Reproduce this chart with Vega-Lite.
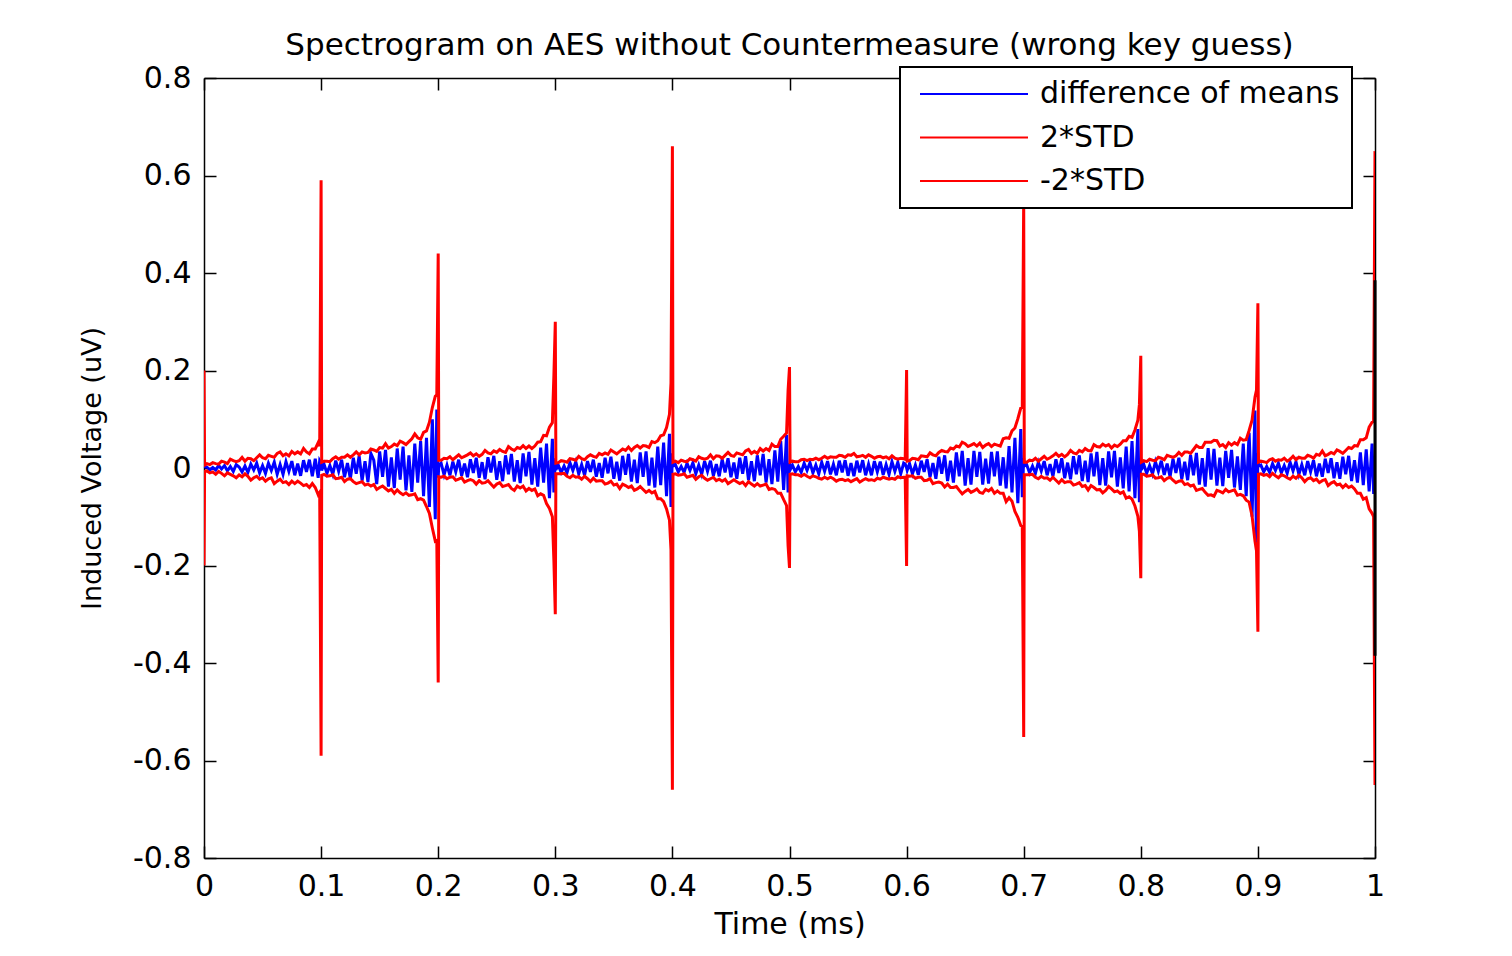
{
"$schema":"https://vega.github.io/schema/vega-lite/v6.json",
"width":1171,"height":780,
"autosize":{"type":"none"},
"padding":{"left":204,"top":78,"right":137,"bottom":98},
"background":"white",
"title":{"text":"Spectrogram on AES without Countermeasure (wrong key guess)","font":"DejaVu Sans","fontSize":31,"fontWeight":"normal","color":"black","offset":1,"anchor":"middle"},
"datasets":{
"sig":[
{"t":0,"m":0,"u":0.2,"l":-0.2},
{"t":0.0005,"m":0.003,"u":0.006,"l":-0.007},
{"t":0.0025,"m":0.002,"u":0.009,"l":-0.006},
{"t":0.005,"m":-0.004,"u":0.007,"l":-0.01},
{"t":0.0075,"m":0.001,"u":0.011,"l":-0.008},
{"t":0.01,"m":-0.004,"u":0.009,"l":-0.013},
{"t":0.0125,"m":0.005,"u":0.008,"l":-0.007},
{"t":0.015,"m":-0.002,"u":0.014,"l":-0.011},
{"t":0.0175,"m":0.005,"u":0.012,"l":-0.016},
{"t":0.02,"m":-0.006,"u":0.009,"l":-0.01},
{"t":0.0225,"m":0.003,"u":0.018,"l":-0.013},
{"t":0.025,"m":-0.007,"u":0.015,"l":-0.016},
{"t":0.0275,"m":0.007,"u":0.013,"l":-0.02},
{"t":0.03,"m":0.002,"u":0.015,"l":-0.014},
{"t":0.0325,"m":-0.008,"u":0.022,"l":-0.018},
{"t":0.035,"m":0.004,"u":0.014,"l":-0.012},
{"t":0.0375,"m":-0.009,"u":0.02,"l":-0.017},
{"t":0.04,"m":0.008,"u":0.019,"l":-0.025},
{"t":0.0425,"m":-0.004,"u":0.015,"l":-0.02},
{"t":0.045,"m":0.01,"u":0.021,"l":-0.017},
{"t":0.0475,"m":-0.01,"u":0.027,"l":-0.023},
{"t":0.05,"m":0.005,"u":0.021,"l":-0.02},
{"t":0.0525,"m":-0.011,"u":0.019,"l":-0.027},
{"t":0.055,"m":0.01,"u":0.026,"l":-0.022},
{"t":0.0575,"m":-0.005,"u":0.024,"l":-0.02},
{"t":0.06,"m":0.012,"u":0.022,"l":-0.032},
{"t":0.0625,"m":-0.013,"u":0.03,"l":-0.027},
{"t":0.065,"m":0.007,"u":0.033,"l":-0.023},
{"t":0.0675,"m":-0.013,"u":0.025,"l":-0.03},
{"t":0.07,"m":0.013,"u":0.029,"l":-0.028},
{"t":0.0725,"m":-0.007,"u":0.025,"l":-0.034},
{"t":0.075,"m":0.014,"u":0.034,"l":-0.027},
{"t":0.0775,"m":-0.015,"u":0.029,"l":-0.032},
{"t":0.08,"m":0.009,"u":0.033,"l":-0.027},
{"t":0.0825,"m":-0.016,"u":0.029,"l":-0.031},
{"t":0.085,"m":0.016,"u":0.04,"l":-0.036},
{"t":0.0875,"m":-0.008,"u":0.033,"l":-0.034},
{"t":0.09,"m":0.017,"u":0.029,"l":-0.04},
{"t":0.0925,"m":-0.017,"u":0.039,"l":-0.032},
{"t":0.095,"m":0.019,"u":0.039,"l":-0.04},
{"t":0.0975,"m":-0.02,"u":0.052,"l":-0.055},
{"t":0.0988,"m":0.015,"u":0.045,"l":-0.05},
{"t":0.1,"m":0.01,"u":0.59,"l":-0.59},
{"t":0.1005,"m":-0.005,"u":0.012,"l":-0.015},
{"t":0.1025,"m":0.008,"u":0.014,"l":-0.013},
{"t":0.105,"m":-0.011,"u":0.014,"l":-0.017},
{"t":0.1075,"m":0.005,"u":0.013,"l":-0.016},
{"t":0.11,"m":-0.013,"u":0.019,"l":-0.014},
{"t":0.1125,"m":0.015,"u":0.023,"l":-0.022},
{"t":0.115,"m":-0.007,"u":0.018,"l":-0.021},
{"t":0.1175,"m":0.017,"u":0.022,"l":-0.019},
{"t":0.12,"m":-0.019,"u":0.022,"l":-0.028},
{"t":0.1225,"m":0.01,"u":0.027,"l":-0.023},
{"t":0.125,"m":-0.022,"u":0.022,"l":-0.022},
{"t":0.1275,"m":0.021,"u":0.027,"l":-0.028},
{"t":0.13,"m":-0.012,"u":0.033,"l":-0.032},
{"t":0.1325,"m":0.025,"u":0.027,"l":-0.03},
{"t":0.135,"m":-0.026,"u":0.033,"l":-0.028},
{"t":0.1375,"m":0.014,"u":0.031,"l":-0.035},
{"t":0.14,"m":-0.029,"u":0.032,"l":-0.033},
{"t":0.1425,"m":0.03,"u":0.039,"l":-0.037},
{"t":0.145,"m":0.016,"u":0.037,"l":-0.034},
{"t":0.1475,"m":-0.033,"u":0.034,"l":-0.044},
{"t":0.15,"m":0.034,"u":0.042,"l":-0.04},
{"t":0.1525,"m":-0.018,"u":0.041,"l":-0.037},
{"t":0.155,"m":0.037,"u":0.05,"l":-0.042},
{"t":0.1575,"m":-0.038,"u":0.041,"l":-0.047},
{"t":0.16,"m":0.022,"u":0.044,"l":-0.044},
{"t":0.1625,"m":-0.041,"u":0.049,"l":-0.052},
{"t":0.165,"m":0.04,"u":0.046,"l":-0.045},
{"t":0.1675,"m":-0.024,"u":0.055,"l":-0.051},
{"t":0.17,"m":0.044,"u":0.052,"l":-0.055},
{"t":0.1725,"m":-0.046,"u":0.048,"l":-0.051},
{"t":0.175,"m":0.026,"u":0.054,"l":-0.056},
{"t":0.1775,"m":-0.049,"u":0.06,"l":-0.055},
{"t":0.18,"m":0.05,"u":0.07,"l":-0.053},
{"t":0.1825,"m":-0.03,"u":0.062,"l":-0.065},
{"t":0.185,"m":0.055,"u":0.059,"l":-0.063},
{"t":0.1875,"m":-0.058,"u":0.073,"l":-0.066},
{"t":0.19,"m":0.062,"u":0.076,"l":-0.079},
{"t":0.1925,"m":-0.08,"u":0.094,"l":-0.093},
{"t":0.195,"m":0.1,"u":0.124,"l":-0.123},
{"t":0.1975,"m":-0.105,"u":0.147,"l":-0.15},
{"t":0.1988,"m":0.12,"u":0.15,"l":-0.148},
{"t":0.2,"m":-0.02,"u":0.44,"l":-0.44},
{"t":0.2005,"m":0.005,"u":0.016,"l":-0.018},
{"t":0.2025,"m":0.01,"u":0.016,"l":-0.019},
{"t":0.205,"m":-0.014,"u":0.02,"l":-0.017},
{"t":0.2075,"m":0.006,"u":0.019,"l":-0.022},
{"t":0.21,"m":-0.015,"u":0.023,"l":-0.019},
{"t":0.2125,"m":0.013,"u":0.017,"l":-0.018},
{"t":0.215,"m":-0.008,"u":0.022,"l":-0.025},
{"t":0.2175,"m":0.017,"u":0.027,"l":-0.023},
{"t":0.22,"m":-0.016,"u":0.021,"l":-0.02},
{"t":0.2225,"m":0.009,"u":0.024,"l":-0.029},
{"t":0.225,"m":-0.019,"u":0.027,"l":-0.026},
{"t":0.2275,"m":0.018,"u":0.031,"l":-0.024},
{"t":0.23,"m":-0.01,"u":0.025,"l":-0.026},
{"t":0.2325,"m":0.021,"u":0.029,"l":-0.033},
{"t":0.235,"m":-0.02,"u":0.024,"l":-0.026},
{"t":0.2375,"m":0.012,"u":0.028,"l":-0.031},
{"t":0.24,"m":-0.023,"u":0.036,"l":-0.03},
{"t":0.2425,"m":0.022,"u":0.031,"l":-0.026},
{"t":0.245,"m":-0.009,"u":0.029,"l":-0.033},
{"t":0.2475,"m":0.025,"u":0.035,"l":-0.039},
{"t":0.25,"m":-0.024,"u":0.032,"l":-0.033},
{"t":0.2525,"m":0.014,"u":0.038,"l":-0.03},
{"t":0.255,"m":-0.027,"u":0.034,"l":-0.038},
{"t":0.2575,"m":0.026,"u":0.032,"l":-0.036},
{"t":0.26,"m":-0.013,"u":0.044,"l":-0.034},
{"t":0.2625,"m":0.029,"u":0.039,"l":-0.042},
{"t":0.265,"m":-0.028,"u":0.036,"l":-0.046},
{"t":0.2675,"m":0.016,"u":0.042,"l":-0.037},
{"t":0.27,"m":-0.031,"u":0.04,"l":-0.041},
{"t":0.2725,"m":0.03,"u":0.046,"l":-0.037},
{"t":0.275,"m":-0.017,"u":0.04,"l":-0.047},
{"t":0.2775,"m":0.033,"u":0.045,"l":-0.042},
{"t":0.28,"m":-0.034,"u":0.04,"l":-0.046},
{"t":0.2825,"m":0.02,"u":0.045,"l":-0.043},
{"t":0.285,"m":-0.038,"u":0.053,"l":-0.057},
{"t":0.2875,"m":0.042,"u":0.054,"l":-0.053},
{"t":0.29,"m":-0.03,"u":0.067,"l":-0.056},
{"t":0.2925,"m":0.05,"u":0.066,"l":-0.073},
{"t":0.295,"m":-0.062,"u":0.084,"l":-0.083},
{"t":0.2975,"m":0.06,"u":0.093,"l":-0.1},
{"t":0.2988,"m":-0.05,"u":0.19,"l":-0.19},
{"t":0.3,"m":0.02,"u":0.3,"l":-0.3},
{"t":0.3005,"m":-0.004,"u":0.01,"l":-0.012},
{"t":0.3025,"m":0.006,"u":0.011,"l":-0.012},
{"t":0.305,"m":-0.009,"u":0.015,"l":-0.012},
{"t":0.3075,"m":0.004,"u":0.014,"l":-0.011},
{"t":0.31,"m":-0.01,"u":0.012,"l":-0.017},
{"t":0.3125,"m":0.011,"u":0.019,"l":-0.02},
{"t":0.315,"m":-0.005,"u":0.018,"l":-0.015},
{"t":0.3175,"m":0.013,"u":0.016,"l":-0.019},
{"t":0.32,"m":-0.012,"u":0.024,"l":-0.018},
{"t":0.3225,"m":0.007,"u":0.019,"l":-0.023},
{"t":0.325,"m":-0.015,"u":0.017,"l":-0.017},
{"t":0.3275,"m":0.014,"u":0.023,"l":-0.022},
{"t":0.33,"m":-0.008,"u":0.027,"l":-0.028},
{"t":0.3325,"m":0.017,"u":0.024,"l":-0.021},
{"t":0.335,"m":-0.018,"u":0.022,"l":-0.027},
{"t":0.3375,"m":0.01,"u":0.03,"l":-0.026},
{"t":0.34,"m":-0.02,"u":0.027,"l":-0.026},
{"t":0.3425,"m":0.021,"u":0.031,"l":-0.033},
{"t":0.345,"m":-0.011,"u":0.028,"l":-0.031},
{"t":0.3475,"m":0.023,"u":0.037,"l":-0.027},
{"t":0.35,"m":-0.022,"u":0.033,"l":-0.035},
{"t":0.3525,"m":0.013,"u":0.029,"l":-0.033},
{"t":0.355,"m":-0.026,"u":0.034,"l":-0.042},
{"t":0.3575,"m":0.025,"u":0.039,"l":-0.033},
{"t":0.36,"m":-0.014,"u":0.036,"l":-0.036},
{"t":0.3625,"m":0.029,"u":0.043,"l":-0.04},
{"t":0.365,"m":-0.028,"u":0.036,"l":-0.037},
{"t":0.3675,"m":0.017,"u":0.042,"l":-0.046},
{"t":0.37,"m":-0.031,"u":0.046,"l":-0.043},
{"t":0.3725,"m":0.032,"u":0.041,"l":-0.038},
{"t":0.375,"m":-0.018,"u":0.046,"l":-0.044},
{"t":0.3775,"m":0.034,"u":0.045,"l":-0.05},
{"t":0.38,"m":-0.036,"u":0.042,"l":-0.046},
{"t":0.3825,"m":0.021,"u":0.054,"l":-0.051},
{"t":0.385,"m":-0.04,"u":0.052,"l":-0.048},
{"t":0.3875,"m":0.044,"u":0.056,"l":-0.063},
{"t":0.39,"m":-0.035,"u":0.066,"l":-0.063},
{"t":0.3925,"m":0.052,"u":0.068,"l":-0.069},
{"t":0.395,"m":-0.058,"u":0.083,"l":-0.084},
{"t":0.3975,"m":0.07,"u":0.11,"l":-0.107},
{"t":0.3988,"m":-0.08,"u":0.174,"l":-0.168},
{"t":0.4,"m":0.03,"u":0.66,"l":-0.66},
{"t":0.4005,"m":0.004,"u":0.012,"l":-0.013},
{"t":0.4025,"m":0.007,"u":0.014,"l":-0.012},
{"t":0.405,"m":-0.008,"u":0.011,"l":-0.015},
{"t":0.4075,"m":0.003,"u":0.016,"l":-0.014},
{"t":0.41,"m":-0.009,"u":0.014,"l":-0.012},
{"t":0.4125,"m":0.01,"u":0.013,"l":-0.019},
{"t":0.415,"m":-0.005,"u":0.019,"l":-0.017},
{"t":0.4175,"m":0.011,"u":0.017,"l":-0.015},
{"t":0.42,"m":-0.012,"u":0.014,"l":-0.023},
{"t":0.4225,"m":0.006,"u":0.023,"l":-0.018},
{"t":0.425,"m":-0.013,"u":0.02,"l":-0.015},
{"t":0.4275,"m":0.014,"u":0.018,"l":-0.021},
{"t":0.43,"m":-0.007,"u":0.02,"l":-0.025},
{"t":0.4325,"m":0.015,"u":0.027,"l":-0.022},
{"t":0.435,"m":-0.016,"u":0.019,"l":-0.019},
{"t":0.4375,"m":0.008,"u":0.025,"l":-0.026},
{"t":0.44,"m":-0.017,"u":0.024,"l":-0.023},
{"t":0.4425,"m":0.018,"u":0.02,"l":-0.027},
{"t":0.445,"m":-0.009,"u":0.026,"l":-0.023},
{"t":0.4475,"m":0.02,"u":0.032,"l":-0.032},
{"t":0.45,"m":-0.019,"u":0.026,"l":-0.028},
{"t":0.4525,"m":0.011,"u":0.024,"l":-0.024},
{"t":0.455,"m":-0.022,"u":0.031,"l":-0.028},
{"t":0.4575,"m":0.021,"u":0.029,"l":-0.032},
{"t":0.46,"m":-0.012,"u":0.027,"l":-0.029},
{"t":0.4625,"m":0.024,"u":0.035,"l":-0.036},
{"t":0.465,"m":-0.025,"u":0.038,"l":-0.028},
{"t":0.4675,"m":0.014,"u":0.03,"l":-0.033},
{"t":0.47,"m":-0.027,"u":0.034,"l":-0.037},
{"t":0.4725,"m":0.026,"u":0.03,"l":-0.032},
{"t":0.475,"m":-0.015,"u":0.04,"l":-0.037},
{"t":0.4775,"m":0.029,"u":0.035,"l":-0.035},
{"t":0.48,"m":-0.03,"u":0.04,"l":-0.033},
{"t":0.4825,"m":0.018,"u":0.036,"l":-0.044},
{"t":0.485,"m":-0.033,"u":0.049,"l":-0.042},
{"t":0.4875,"m":0.036,"u":0.044,"l":-0.044},
{"t":0.49,"m":-0.028,"u":0.044,"l":-0.052},
{"t":0.4925,"m":0.055,"u":0.059,"l":-0.052},
{"t":0.495,"m":-0.045,"u":0.065,"l":-0.065},
{"t":0.4975,"m":0.068,"u":0.072,"l":-0.077},
{"t":0.4988,"m":-0.05,"u":0.16,"l":-0.16},
{"t":0.5,"m":0.01,"u":0.207,"l":-0.205},
{"t":0.5005,"m":-0.004,"u":0.012,"l":-0.013},
{"t":0.5025,"m":0.006,"u":0.014,"l":-0.012},
{"t":0.505,"m":-0.008,"u":0.013,"l":-0.014},
{"t":0.5075,"m":0.003,"u":0.013,"l":-0.014},
{"t":0.51,"m":-0.009,"u":0.017,"l":-0.017},
{"t":0.5125,"m":0.01,"u":0.018,"l":-0.013},
{"t":0.515,"m":-0.005,"u":0.015,"l":-0.017},
{"t":0.5175,"m":0.011,"u":0.018,"l":-0.02},
{"t":0.52,"m":-0.01,"u":0.017,"l":-0.016},
{"t":0.5225,"m":0.006,"u":0.02,"l":-0.018},
{"t":0.525,"m":-0.012,"u":0.017,"l":-0.021},
{"t":0.5275,"m":0.012,"u":0.02,"l":-0.023},
{"t":0.53,"m":-0.007,"u":0.024,"l":-0.019},
{"t":0.5325,"m":0.014,"u":0.02,"l":-0.022},
{"t":0.535,"m":-0.013,"u":0.023,"l":-0.019},
{"t":0.5375,"m":0.008,"u":0.022,"l":-0.022},
{"t":0.54,"m":-0.015,"u":0.022,"l":-0.027},
{"t":0.5425,"m":0.015,"u":0.026,"l":-0.024},
{"t":0.545,"m":-0.009,"u":0.025,"l":-0.023},
{"t":0.5475,"m":0.016,"u":0.022,"l":-0.026},
{"t":0.55,"m":-0.016,"u":0.027,"l":-0.024},
{"t":0.5525,"m":0.01,"u":0.026,"l":-0.028},
{"t":0.555,"m":-0.017,"u":0.03,"l":-0.025},
{"t":0.5575,"m":0.015,"u":0.023,"l":-0.022},
{"t":0.56,"m":-0.009,"u":0.024,"l":-0.029},
{"t":0.5625,"m":0.016,"u":0.026,"l":-0.025},
{"t":0.565,"m":-0.015,"u":0.022,"l":-0.022},
{"t":0.5675,"m":0.008,"u":0.027,"l":-0.025},
{"t":0.57,"m":-0.015,"u":0.024,"l":-0.024},
{"t":0.5725,"m":0.014,"u":0.02,"l":-0.026},
{"t":0.575,"m":-0.008,"u":0.023,"l":-0.021},
{"t":0.5775,"m":0.013,"u":0.024,"l":-0.023},
{"t":0.58,"m":-0.014,"u":0.021,"l":-0.019},
{"t":0.5825,"m":0.007,"u":0.023,"l":-0.021},
{"t":0.585,"m":-0.013,"u":0.019,"l":-0.023},
{"t":0.5875,"m":0.013,"u":0.025,"l":-0.021},
{"t":0.59,"m":-0.007,"u":0.02,"l":-0.023},
{"t":0.5925,"m":0.012,"u":0.018,"l":-0.018},
{"t":0.595,"m":-0.012,"u":0.02,"l":-0.02},
{"t":0.5975,"m":0.01,"u":0.019,"l":-0.019},
{"t":0.5988,"m":0.008,"u":0.018,"l":-0.019},
{"t":0.6,"m":0,"u":0.201,"l":-0.201},
{"t":0.6005,"m":-0.005,"u":0.014,"l":-0.016},
{"t":0.6025,"m":0.009,"u":0.015,"l":-0.017},
{"t":0.605,"m":-0.012,"u":0.02,"l":-0.016},
{"t":0.6075,"m":0.006,"u":0.019,"l":-0.021},
{"t":0.61,"m":-0.014,"u":0.017,"l":-0.019},
{"t":0.6125,"m":0.015,"u":0.025,"l":-0.019},
{"t":0.615,"m":-0.008,"u":0.024,"l":-0.026},
{"t":0.6175,"m":0.018,"u":0.023,"l":-0.025},
{"t":0.62,"m":-0.019,"u":0.031,"l":-0.022},
{"t":0.6225,"m":0.01,"u":0.027,"l":-0.032},
{"t":0.625,"m":-0.022,"u":0.025,"l":-0.03},
{"t":0.6275,"m":0.023,"u":0.032,"l":-0.029},
{"t":0.63,"m":-0.012,"u":0.036,"l":-0.031},
{"t":0.6325,"m":0.026,"u":0.034,"l":-0.039},
{"t":0.635,"m":-0.027,"u":0.033,"l":-0.033},
{"t":0.6375,"m":0.015,"u":0.041,"l":-0.04},
{"t":0.64,"m":-0.03,"u":0.039,"l":-0.04},
{"t":0.6425,"m":0.032,"u":0.045,"l":-0.038},
{"t":0.645,"m":-0.017,"u":0.043,"l":-0.046},
{"t":0.6475,"m":0.035,"u":0.053,"l":-0.053},
{"t":0.65,"m":-0.036,"u":0.05,"l":-0.048},
{"t":0.6525,"m":0.02,"u":0.044,"l":-0.044},
{"t":0.655,"m":-0.034,"u":0.047,"l":-0.05},
{"t":0.6575,"m":0.035,"u":0.05,"l":-0.047},
{"t":0.66,"m":-0.018,"u":0.045,"l":-0.043},
{"t":0.6625,"m":0.033,"u":0.051,"l":-0.05},
{"t":0.665,"m":-0.034,"u":0.042,"l":-0.052},
{"t":0.6675,"m":0.019,"u":0.047,"l":-0.044},
{"t":0.67,"m":-0.032,"u":0.05,"l":-0.047},
{"t":0.6725,"m":0.033,"u":0.044,"l":-0.042},
{"t":0.675,"m":-0.017,"u":0.049,"l":-0.052},
{"t":0.6775,"m":0.034,"u":0.047,"l":-0.047},
{"t":0.68,"m":-0.036,"u":0.045,"l":-0.052},
{"t":0.6825,"m":0.022,"u":0.06,"l":-0.052},
{"t":0.685,"m":-0.042,"u":0.062,"l":-0.069},
{"t":0.6875,"m":0.045,"u":0.061,"l":-0.061},
{"t":0.69,"m":-0.05,"u":0.076,"l":-0.068},
{"t":0.6925,"m":0.062,"u":0.082,"l":-0.089},
{"t":0.695,"m":-0.072,"u":0.101,"l":-0.101},
{"t":0.6975,"m":0.08,"u":0.123,"l":-0.118},
{"t":0.6988,"m":-0.06,"u":0.125,"l":-0.12},
{"t":0.7,"m":0.02,"u":0.55,"l":-0.552},
{"t":0.7005,"m":0.004,"u":0.012,"l":-0.014},
{"t":0.7025,"m":0.007,"u":0.012,"l":-0.014},
{"t":0.705,"m":-0.01,"u":0.016,"l":-0.014},
{"t":0.7075,"m":0.004,"u":0.015,"l":-0.013},
{"t":0.71,"m":-0.011,"u":0.02,"l":-0.019},
{"t":0.7125,"m":0.012,"u":0.014,"l":-0.022},
{"t":0.715,"m":-0.006,"u":0.019,"l":-0.017},
{"t":0.7175,"m":0.014,"u":0.024,"l":-0.021},
{"t":0.72,"m":-0.015,"u":0.018,"l":-0.02},
{"t":0.7225,"m":0.008,"u":0.021,"l":-0.025},
{"t":0.725,"m":-0.017,"u":0.025,"l":-0.019},
{"t":0.7275,"m":0.018,"u":0.03,"l":-0.025},
{"t":0.73,"m":-0.01,"u":0.024,"l":-0.031},
{"t":0.7325,"m":0.02,"u":0.028,"l":-0.024},
{"t":0.735,"m":-0.021,"u":0.023,"l":-0.03},
{"t":0.7375,"m":0.011,"u":0.028,"l":-0.028},
{"t":0.74,"m":-0.023,"u":0.036,"l":-0.028},
{"t":0.7425,"m":0.024,"u":0.031,"l":-0.035},
{"t":0.745,"m":-0.013,"u":0.029,"l":-0.033},
{"t":0.7475,"m":0.026,"u":0.036,"l":-0.03},
{"t":0.75,"m":-0.027,"u":0.033,"l":-0.038},
{"t":0.7525,"m":0.015,"u":0.04,"l":-0.036},
{"t":0.755,"m":-0.029,"u":0.036,"l":-0.045},
{"t":0.7575,"m":0.03,"u":0.035,"l":-0.036},
{"t":0.76,"m":-0.017,"u":0.048,"l":-0.04},
{"t":0.7625,"m":0.033,"u":0.044,"l":-0.045},
{"t":0.765,"m":-0.035,"u":0.043,"l":-0.044},
{"t":0.7675,"m":0.02,"u":0.049,"l":-0.051},
{"t":0.77,"m":-0.036,"u":0.045,"l":-0.046},
{"t":0.7725,"m":0.034,"u":0.048,"l":-0.038},
{"t":0.775,"m":-0.019,"u":0.041,"l":-0.043},
{"t":0.7775,"m":0.035,"u":0.047,"l":-0.049},
{"t":0.78,"m":-0.038,"u":0.044,"l":-0.047},
{"t":0.7825,"m":0.022,"u":0.049,"l":-0.052},
{"t":0.785,"m":-0.042,"u":0.056,"l":-0.049},
{"t":0.7875,"m":0.044,"u":0.056,"l":-0.062},
{"t":0.79,"m":-0.048,"u":0.065,"l":-0.059},
{"t":0.7925,"m":0.055,"u":0.063,"l":-0.064},
{"t":0.795,"m":-0.062,"u":0.078,"l":-0.078},
{"t":0.7975,"m":0.08,"u":0.098,"l":-0.099},
{"t":0.7988,"m":-0.07,"u":0.13,"l":-0.13},
{"t":0.8,"m":0.02,"u":0.23,"l":-0.226},
{"t":0.8005,"m":-0.004,"u":0.012,"l":-0.013},
{"t":0.8025,"m":0.008,"u":0.015,"l":-0.013},
{"t":0.805,"m":-0.011,"u":0.013,"l":-0.017},
{"t":0.8075,"m":0.005,"u":0.018,"l":-0.016},
{"t":0.81,"m":-0.012,"u":0.016,"l":-0.014},
{"t":0.8125,"m":0.013,"u":0.015,"l":-0.021},
{"t":0.815,"m":-0.007,"u":0.022,"l":-0.02},
{"t":0.8175,"m":0.015,"u":0.02,"l":-0.018},
{"t":0.82,"m":-0.014,"u":0.017,"l":-0.026},
{"t":0.8225,"m":0.009,"u":0.026,"l":-0.021},
{"t":0.825,"m":-0.018,"u":0.024,"l":-0.019},
{"t":0.8275,"m":0.019,"u":0.022,"l":-0.025},
{"t":0.83,"m":-0.01,"u":0.025,"l":-0.03},
{"t":0.8325,"m":0.021,"u":0.032,"l":-0.027},
{"t":0.835,"m":-0.023,"u":0.026,"l":-0.026},
{"t":0.8375,"m":0.013,"u":0.033,"l":-0.034},
{"t":0.84,"m":-0.025,"u":0.033,"l":-0.032},
{"t":0.8425,"m":0.027,"u":0.03,"l":-0.037},
{"t":0.845,"m":-0.015,"u":0.038,"l":-0.035},
{"t":0.8475,"m":0.031,"u":0.046,"l":-0.046},
{"t":0.85,"m":-0.034,"u":0.042,"l":-0.044},
{"t":0.8525,"m":0.02,"u":0.042,"l":-0.042},
{"t":0.855,"m":-0.038,"u":0.053,"l":-0.05},
{"t":0.8575,"m":0.041,"u":0.053,"l":-0.056},
{"t":0.86,"m":-0.024,"u":0.053,"l":-0.055},
{"t":0.8625,"m":0.039,"u":0.057,"l":-0.058},
{"t":0.865,"m":-0.036,"u":0.056,"l":-0.046},
{"t":0.8675,"m":0.021,"u":0.045,"l":-0.048},
{"t":0.87,"m":-0.037,"u":0.048,"l":-0.051},
{"t":0.8725,"m":0.035,"u":0.042,"l":-0.044},
{"t":0.875,"m":-0.02,"u":0.052,"l":-0.049},
{"t":0.8775,"m":0.037,"u":0.047,"l":-0.047},
{"t":0.88,"m":-0.04,"u":0.052,"l":-0.045},
{"t":0.8825,"m":0.024,"u":0.048,"l":-0.056},
{"t":0.885,"m":-0.045,"u":0.061,"l":-0.054},
{"t":0.8875,"m":0.05,"u":0.057,"l":-0.057},
{"t":0.89,"m":-0.058,"u":0.058,"l":-0.066},
{"t":0.8925,"m":0.072,"u":0.077,"l":-0.07},
{"t":0.895,"m":-0.1,"u":0.098,"l":-0.098},
{"t":0.8975,"m":0.118,"u":0.145,"l":-0.15},
{"t":0.8988,"m":-0.17,"u":0.16,"l":-0.17},
{"t":0.9,"m":0.03,"u":0.338,"l":-0.336},
{"t":0.9005,"m":0.004,"u":0.012,"l":-0.013},
{"t":0.9025,"m":0.006,"u":0.014,"l":-0.012},
{"t":0.905,"m":-0.008,"u":0.013,"l":-0.015},
{"t":0.9075,"m":0.003,"u":0.011,"l":-0.013},
{"t":0.91,"m":-0.009,"u":0.017,"l":-0.018},
{"t":0.9125,"m":0.009,"u":0.019,"l":-0.011},
{"t":0.915,"m":-0.005,"u":0.014,"l":-0.016},
{"t":0.9175,"m":0.01,"u":0.017,"l":-0.02},
{"t":0.92,"m":-0.01,"u":0.016,"l":-0.014},
{"t":0.9225,"m":0.005,"u":0.02,"l":-0.016},
{"t":0.925,"m":-0.011,"u":0.014,"l":-0.02},
{"t":0.9275,"m":0.012,"u":0.018,"l":-0.023},
{"t":0.93,"m":-0.006,"u":0.024,"l":-0.017},
{"t":0.9325,"m":0.013,"u":0.017,"l":-0.021},
{"t":0.935,"m":-0.013,"u":0.022,"l":-0.015},
{"t":0.9375,"m":0.007,"u":0.02,"l":-0.02},
{"t":0.94,"m":-0.015,"u":0.02,"l":-0.028},
{"t":0.9425,"m":0.014,"u":0.026,"l":-0.022},
{"t":0.945,"m":-0.008,"u":0.024,"l":-0.02},
{"t":0.9475,"m":0.016,"u":0.02,"l":-0.026},
{"t":0.95,"m":-0.017,"u":0.028,"l":-0.023},
{"t":0.9525,"m":0.009,"u":0.026,"l":-0.03},
{"t":0.955,"m":-0.018,"u":0.035,"l":-0.026},
{"t":0.9575,"m":0.019,"u":0.025,"l":-0.024},
{"t":0.96,"m":-0.01,"u":0.028,"l":-0.036},
{"t":0.9625,"m":0.02,"u":0.032,"l":-0.031},
{"t":0.965,"m":-0.021,"u":0.029,"l":-0.028},
{"t":0.9675,"m":0.012,"u":0.037,"l":-0.035},
{"t":0.97,"m":-0.022,"u":0.034,"l":-0.033},
{"t":0.9725,"m":0.023,"u":0.03,"l":-0.04},
{"t":0.975,"m":-0.013,"u":0.036,"l":-0.034},
{"t":0.9775,"m":0.025,"u":0.042,"l":-0.04},
{"t":0.98,"m":-0.027,"u":0.04,"l":-0.037},
{"t":0.9825,"m":0.016,"u":0.046,"l":-0.043},
{"t":0.985,"m":-0.03,"u":0.045,"l":-0.052},
{"t":0.9875,"m":0.032,"u":0.058,"l":-0.052},
{"t":0.99,"m":-0.035,"u":0.058,"l":-0.064},
{"t":0.9925,"m":0.038,"u":0.062,"l":-0.061},
{"t":0.995,"m":-0.048,"u":0.084,"l":-0.084},
{"t":0.9975,"m":0.05,"u":0.094,"l":-0.093},
{"t":0.9988,"m":-0.05,"u":0.095,"l":-0.1},
{"t":1,"m":-0.05,"u":0.65,"l":-0.65}
],
"edge":[{"t":1,"lo":-0.385,"hi":0.385}]
},
"layer":[
{
"data":{"name":"sig"},
"transform":[{"fold":["m","u","l"],"as":["series","v"]},{"filter":"datum.series == 'm'"}],
"mark":{"type":"line","strokeWidth":3,"clip":true},
"encoding":{
"x":{"field":"t","type":"quantitative","scale":{"domain":[0,1],"nice":false,"zero":false},
"axis":{"orient":"bottom","values":[0,0.1,0.2,0.3,0.4,0.5,0.6,0.7,0.8,0.9,1],"labelExpr":"replace(format(datum.value,'~g'),'\u2212','-')","title":"Time (ms)","tickSize":-12,"labelPadding":25,"labelFlush":false,"labelOverlap":false,"titlePadding":8}},
"y":{"field":"v","type":"quantitative","scale":{"domain":[-0.8,0.8],"nice":false,"zero":false},
"axis":{"orient":"left","values":[-0.8,-0.6,-0.4,-0.2,0,0.2,0.4,0.6,0.8],"labelExpr":"replace(format(datum.value,'~g'),'\u2212','-')","title":"Induced Voltage (uV)","titleFontSize":27,"tickSize":-12,"labelPadding":25,"labelFlush":false,"labelOverlap":false,"titlePadding":26}},
"color":{"field":"series","type":"nominal","scale":{"domain":["m","u","l"],"range":["#0000ff","#ff0000","#ff0000"]},
"legend":{"orient":"none","legendX":696,"legendY":-11,"title":null,"labelExpr":"datum.label == 'm' ? 'difference of means' : datum.label == 'u' ? '2*STD' : '-2*STD'","symbolType":"M-5.4,0H5.4","symbolSize":400,"symbolStrokeWidth":2,"symbolOffset":47,"labelOffset":51,"labelFont":"DejaVu Sans","labelFontSize":30,"labelColor":"black","labelLimit":0,"rowPadding":13.5,"padding":12,"strokeColor":"black","fillColor":"white","zindex":1,"cornerRadius":0}}
}
},
{
"data":{"name":"sig"},
"transform":[{"fold":["m","u","l"],"as":["series","v"]},{"filter":"datum.series != 'm'"}],
"mark":{"type":"line","strokeWidth":3,"clip":true},
"encoding":{
"x":{"field":"t","type":"quantitative","axis":null},
"y":{"field":"v","type":"quantitative","axis":null},
"color":{"field":"series","type":"nominal"}
}
},
{
"data":{"name":"edge"},
"mark":{"type":"rule","color":"black","strokeWidth":3},
"encoding":{
"x":{"field":"t","type":"quantitative","axis":{"orient":"top","values":[0,0.1,0.2,0.3,0.4,0.5,0.6,0.7,0.8,0.9,1],"labels":false,"title":null,"tickSize":-12}},
"y":{"field":"lo","type":"quantitative","axis":{"orient":"right","values":[-0.8,-0.6,-0.4,-0.2,0,0.2,0.4,0.6,0.8],"labels":false,"title":null,"tickSize":-12}},
"y2":{"field":"hi"}
}
}
],
"resolve":{"axis":{"x":"independent","y":"independent"}},
"config":{
"font":"DejaVu Sans",
"view":{"stroke":null},
"axis":{"labelFont":"DejaVu Sans","labelFontSize":30,"labelColor":"black","titleFont":"DejaVu Sans","titleFontSize":30,"titleFontWeight":"normal","titleColor":"black","domainColor":"black","domainWidth":1.5,"tickColor":"black","tickWidth":1.5,"grid":false},
"legend":{"strokeWidth":2}
}
}
